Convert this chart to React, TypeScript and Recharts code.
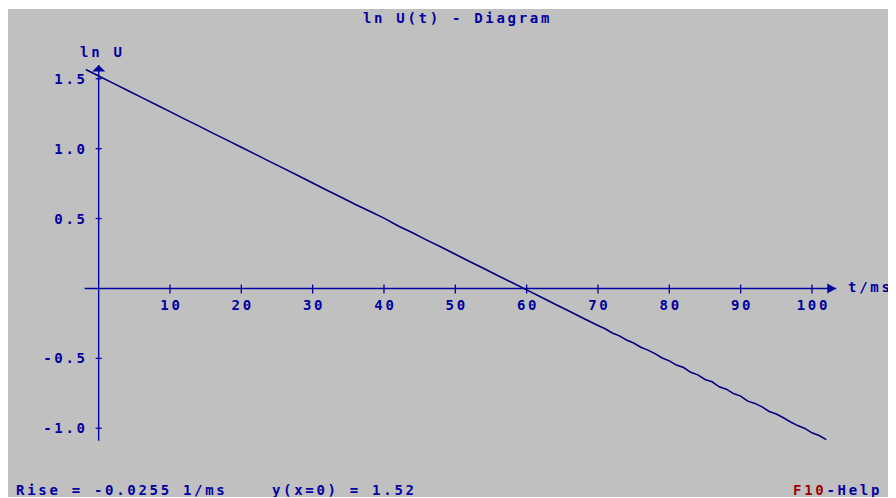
import { LineChart, Line, XAxis, YAxis, ReferenceLine, ReferenceDot } from 'recharts';

// measured ln U values over time (ms)
const times = [
  -1.8, 0, 2, 4, 6, 8, 10, 12, 14, 16, 18, 20, 22, 24, 26, 28, 30, 32, 34, 36, 38, 40, 42, 44, 46, 48,
  50, 52, 54, 56, 58, 60, 62, 64, 66, 68, 70, 71, 72, 73, 74, 75, 76, 77, 78, 79, 80, 81, 82, 83, 84,
  85, 86, 87, 88, 89, 90, 91, 92, 93, 94, 95, 96, 97, 98, 99, 100, 101, 102,
];
const lnU = [
  1.566, 1.52, 1.469, 1.418, 1.367, 1.316, 1.265, 1.213, 1.163, 1.111, 1.061, 1.01, 0.959, 0.907,
  0.857, 0.806, 0.755, 0.703, 0.653, 0.601, 0.552, 0.503, 0.447, 0.398, 0.346, 0.296, 0.245, 0.193,
  0.143, 0.091, 0.041, -0.01, -0.061, -0.113, -0.163, -0.215, -0.265, -0.288, -0.318, -0.339, -0.369,
  -0.39, -0.42, -0.441, -0.466, -0.497, -0.518, -0.548, -0.566, -0.6, -0.618, -0.651, -0.668, -0.704,
  -0.72, -0.752, -0.77, -0.806, -0.822, -0.847, -0.88, -0.898, -0.925, -0.955, -0.981, -1.001, -1.033,
  -1.052, -1.081,
];
const xTicks = [10, 20, 30, 40, 50, 60, 70, 80, 90, 100];
const yTicks = [1.5, 1.0, 0.5, -0.5, -1.0];
const yTickLabels = ['1.5', '1.0', '0.5', '-0.5', '-1.0'];

const data = times.map((t, i) => ({ t, v: lnU[i] }));

const BLUE = '#0000a0';
const RED = '#a00000';
const font = {
  fontFamily: '"DejaVu Sans Mono", monospace',
  fontWeight: 700,
  fontSize: 14,
  letterSpacing: '2.7px',
};

const textStyle = (left: number, top: number, color = BLUE): React.CSSProperties => ({
  ...font,
  position: 'absolute',
  left,
  top,
  color,
  lineHeight: '15px',
  whiteSpace: 'pre',
});

export default function App() {
  return (
    <div style={{ position: 'relative', left: -1, top: 1, width: 889, height: 489, background: '#c0c0c0' }}>
      <div style={{ ...textStyle(6, 2), width: 889, textAlign: 'center' }}>ln U(t) - Diagram</div>
      <div style={textStyle(73, 36)}>ln U</div>
      <div style={textStyle(841, 271)}>t/ms</div>
      <div style={textStyle(9, 474)}>Rise = -0.0255 1/ms    y(x=0) = 1.52</div>
      <div style={textStyle(786, 474)}>
        <span style={{ color: RED }}>F10</span>-Help
      </div>
      <LineChart
        width={889}
        height={489}
        data={data}
        margin={{ top: 41.8, right: 12.7, bottom: 27.8, left: 77.4 }}
        style={{ position: 'absolute', left: 0, top: 0 }}
      >
        <XAxis dataKey="t" type="number" domain={[-2, 110]} hide />
        <YAxis type="number" domain={[-1.3, 1.7]} hide />
        <ReferenceLine segment={[{ x: -1.96, y: 0 }, { x: 103.4, y: 0 }]} stroke={BLUE} strokeWidth={1.4} />
        <ReferenceLine segment={[{ x: 0, y: 1.599 }, { x: 0, y: -1.09 }]} stroke={BLUE} strokeWidth={1.4} />
        <ReferenceDot
          x={103.4}
          y={0}
          shape={(p: any) => (
            <path d={`M${p.cx},${p.cy} L${p.cx - 9},${p.cy - 5} L${p.cx - 9},${p.cy + 5} Z`} fill={BLUE} />
          )}
        />
        <ReferenceDot
          x={0}
          y={1.599}
          shape={(p: any) => (
            <path d={`M${p.cx},${p.cy} L${p.cx - 6.5},${p.cy + 6.5} L${p.cx + 6.5},${p.cy + 6.5} Z`} fill={BLUE} />
          )}
        />
        {xTicks.map((t) => (
          <ReferenceDot
            key={'x' + t}
            x={t}
            y={0}
            shape={(p: any) => (
              <g>
                <line x1={p.cx} x2={p.cx} y1={p.cy - 4} y2={p.cy + 5} stroke={BLUE} strokeWidth={1.3} />
                <text x={p.cx + 1.4} y={p.cy + 22} textAnchor="middle" fill={BLUE} style={font}>
                  {t}
                </text>
              </g>
            )}
          />
        ))}
        {yTicks.map((v, i) => (
          <ReferenceDot
            key={'y' + v}
            x={0}
            y={v}
            shape={(p: any) => (
              <g>
                <line x1={p.cx - 3} x2={p.cx + 3} y1={p.cy} y2={p.cy} stroke={BLUE} strokeWidth={1.3} />
                <text x={p.cx - 11} y={p.cy + 5} textAnchor="end" fill={BLUE} style={font}>
                  {yTickLabels[i]}
                </text>
              </g>
            )}
          />
        ))}
        <Line
          type="linear"
          dataKey="v"
          stroke="#000080"
          strokeWidth={1.6}
          dot={false}
          isAnimationActive={false}
        />
      </LineChart>
    </div>
  );
}
